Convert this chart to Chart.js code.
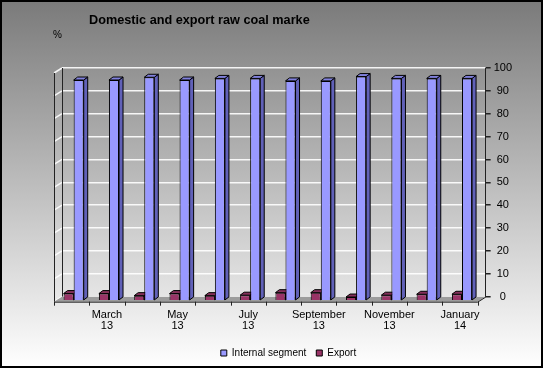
<!DOCTYPE html>
<html>
<head>
<meta charset="utf-8">
<script src="https://cdn.jsdelivr.net/npm/chart.js@4"></script>
<style>
  html, body { margin: 0; padding: 0; }
  #wrap { width: 543px; height: 368px; }
</style>
</head>
<body>
<div id="wrap"><canvas id="coalChart" width="543" height="368"></canvas></div>
<script>
// data
const MONTHS = ['February 13', 'March 13', 'April 13', 'May 13', 'June 13', 'July 13',
                'August 13', 'September 13', 'October 13', 'November 13', 'December 13', 'January 14'];
const INTERNAL = [96.5, 96.5, 97.7, 96.5, 97.2, 97.2, 96.1, 96.1, 98.0, 97.2, 97.2, 97.2];
const EXPORT_SHARE = [3.1, 3.1, 2.2, 3.1, 2.2, 2.4, 3.5, 3.5, 1.6, 2.4, 2.8, 2.8];
const Y_TICKS = [0, 10, 20, 30, 40, 50, 60, 70, 80, 90, 100];

const TITLE = 'Domestic and export raw coal marke';
const FONT = '"Liberation Sans", Arial, sans-serif';

// fake 3D: wall depth and bar depth
const WALL_DX = 8, WALL_DY = 5;     // back plane -> front plane
const BAR_SHIFT_X = -6, BAR_SHIFT_Y = 4;
const BAR_DX = 4, BAR_DY = -3;

// index = dataset index (0 export, 1 internal)
const SIDE_COLORS = ['#6a2347', '#6161b8'];
const TOP_COLORS = ['#84305a', '#8080dc'];

// background, border, header texts
const frame = {
    id: 'frame',
    beforeDraw(chart) {
        const ctx = chart.ctx;
        const g = ctx.createLinearGradient(0, 0, 0, chart.height);
        g.addColorStop(0, '#7a7a7a');
        g.addColorStop(1, '#ffffff');
        ctx.save();
        ctx.fillStyle = g;
        ctx.fillRect(0, 0, chart.width, chart.height);
        ctx.restore();
    },
    afterDraw(chart) {
        const ctx = chart.ctx;
        ctx.save();
        ctx.fillStyle = '#000';
        ctx.textBaseline = 'alphabetic';
        ctx.font = 'bold 12.7px ' + FONT;
        ctx.fillText(TITLE, 89, 24);
        ctx.font = '10px ' + FONT;
        ctx.fillText('%', 53, 38);
        ctx.strokeStyle = '#000';
        ctx.lineWidth = 2;
        ctx.strokeRect(1, 1, chart.width - 2, chart.height - 2);
        ctx.restore();
    }
};

// left wall, floor and the bar sides
const box3d = {
    id: 'box3d',
    beforeDatasetsDraw(chart) {
        const ctx = chart.ctx;
        const a = chart.chartArea;
        const y = chart.scales.y;
        const x = chart.scales.x;

        ctx.save();
        // left wall
        ctx.beginPath();
        ctx.moveTo(a.left, a.top);
        ctx.lineTo(a.left - WALL_DX, a.top + WALL_DY);
        ctx.lineTo(a.left - WALL_DX, a.bottom + WALL_DY);
        ctx.lineTo(a.left, a.bottom);
        ctx.closePath();
        ctx.fillStyle = 'rgba(255,255,255,0.08)';
        ctx.fill();
        ctx.strokeStyle = 'rgba(255,255,255,0.9)';
        ctx.lineWidth = 1.5;
        Y_TICKS.forEach(v => {
            const py = y.getPixelForValue(v);
            ctx.beginPath();
            ctx.moveTo(a.left, py);
            ctx.lineTo(a.left - WALL_DX, py + WALL_DY);
            ctx.stroke();
        });
        ctx.strokeStyle = '#222';
        ctx.lineWidth = 1;
        ctx.beginPath();
        ctx.moveTo(a.left + 0.5, a.top);
        ctx.lineTo(a.left + 0.5, a.bottom);
        ctx.moveTo(a.left - WALL_DX + 0.5, a.top + WALL_DY);
        ctx.lineTo(a.left - WALL_DX + 0.5, a.bottom + WALL_DY);
        ctx.stroke();

        // floor
        ctx.beginPath();
        ctx.moveTo(a.left, a.bottom);
        ctx.lineTo(a.right, a.bottom);
        ctx.lineTo(a.right - WALL_DX, a.bottom + WALL_DY);
        ctx.lineTo(a.left - WALL_DX, a.bottom + WALL_DY);
        ctx.closePath();
        ctx.fillStyle = '#9c9c9c';
        ctx.fill();
        ctx.strokeStyle = '#222';
        ctx.beginPath();
        ctx.moveTo(a.left - WALL_DX, a.bottom + WALL_DY + 0.5);
        ctx.lineTo(a.right - WALL_DX, a.bottom + WALL_DY + 0.5);
        ctx.lineTo(a.right, a.bottom + 0.5);
        ctx.stroke();

        // category ticks under the front edge
        const step = (a.right - a.left) / MONTHS.length;
        for (let i = 0; i <= MONTHS.length; i++) {
            const px = Math.round(x.getPixelForValue(i) - step / 2 - WALL_DX) + 0.5;
            ctx.beginPath();
            ctx.moveTo(px, a.bottom + WALL_DY);
            ctx.lineTo(px, a.bottom + WALL_DY + 4);
            ctx.stroke();
        }
        ctx.restore();

        // bars sit a bit in front of the back wall
        ctx.save();
        ctx.translate(BAR_SHIFT_X, BAR_SHIFT_Y);
        ctx.lineWidth = 1;
        ctx.strokeStyle = '#000';
        for (let i = 0; i < MONTHS.length; i++) {
            for (let d = 0; d < chart.data.datasets.length; d++) {
                const bar = chart.getDatasetMeta(d).data[i];
                const l = bar.x - bar.width / 2;
                const r = bar.x + bar.width / 2;
                const t = bar.y;
                const b = bar.base;
                // side
                ctx.beginPath();
                ctx.moveTo(r, t);
                ctx.lineTo(r + BAR_DX, t + BAR_DY);
                ctx.lineTo(r + BAR_DX, b + BAR_DY);
                ctx.lineTo(r, b);
                ctx.closePath();
                ctx.fillStyle = SIDE_COLORS[d];
                ctx.fill();
                ctx.stroke();
                // top
                ctx.beginPath();
                ctx.moveTo(l, t);
                ctx.lineTo(l + BAR_DX, t + BAR_DY);
                ctx.lineTo(r + BAR_DX, t + BAR_DY);
                ctx.lineTo(r, t);
                ctx.closePath();
                ctx.fillStyle = TOP_COLORS[d];
                ctx.fill();
                ctx.stroke();
            }
        }
    },
    afterDatasetsDraw(chart) {
        chart.ctx.restore();
    }
};

new Chart(document.getElementById('coalChart'), {
    type: 'bar',
    data: {
        labels: MONTHS,
        datasets: [
            {
                label: 'Export',
                data: EXPORT_SHARE,
                backgroundColor: '#993366',
                borderColor: '#000',
                borderWidth: 1,
                barPercentage: 1,
                categoryPercentage: 0.57
            },
            {
                label: 'Internal segment',
                data: INTERNAL,
                backgroundColor: '#9999ff',
                borderColor: '#000',
                borderWidth: 1,
                barPercentage: 1,
                categoryPercentage: 0.57
            }
        ]
    },
    options: {
        responsive: false,
        animation: false,
        devicePixelRatio: 1,
        layout: { padding: { left: 62, right: 28, top: 68, bottom: 0 } },
        scales: {
            x: {
                grid: { display: false, drawTicks: false },
                border: { display: false },
                // labels may hang a bit into the legend strip
                afterFit: function (scale) { scale.height = scale.height - 6; },
                ticks: {
                    autoSkip: false,
                    maxRotation: 0,
                    labelOffset: -WALL_DX,
                    padding: 12,
                    color: '#000',
                    font: { family: FONT, size: 11, lineHeight: 1.06 },
                    callback: function (value, index) {
                        if (index % 2 === 0) return '';
                        const s = MONTHS[index];
                        const k = s.lastIndexOf(' ');
                        return [s.slice(0, k), s.slice(k + 1)];
                    }
                }
            },
            y: {
                position: 'right',
                min: 0,
                max: 100,
                grid: {
                    color: 'rgba(255,255,255,0.9)',
                    lineWidth: 1.5,
                    tickColor: '#222',
                    tickLength: 5
                },
                border: { display: true, color: '#222', width: 1 },
                ticks: {
                    stepSize: 10,
                    padding: 3,
                    crossAlign: 'center',
                    color: '#000',
                    font: { family: FONT, size: 11 }
                }
            }
        },
        plugins: {
            title: { display: false },
            tooltip: { enabled: false },
            legend: {
                position: 'bottom',
                reverse: true,
                labels: {
                    boxWidth: 6,
                    boxHeight: 6,
                    padding: 10,
                    color: '#000',
                    font: { family: FONT, size: 10 }
                }
            }
        }
    },
    plugins: [frame, box3d]
});
</script>
</body>
</html>
